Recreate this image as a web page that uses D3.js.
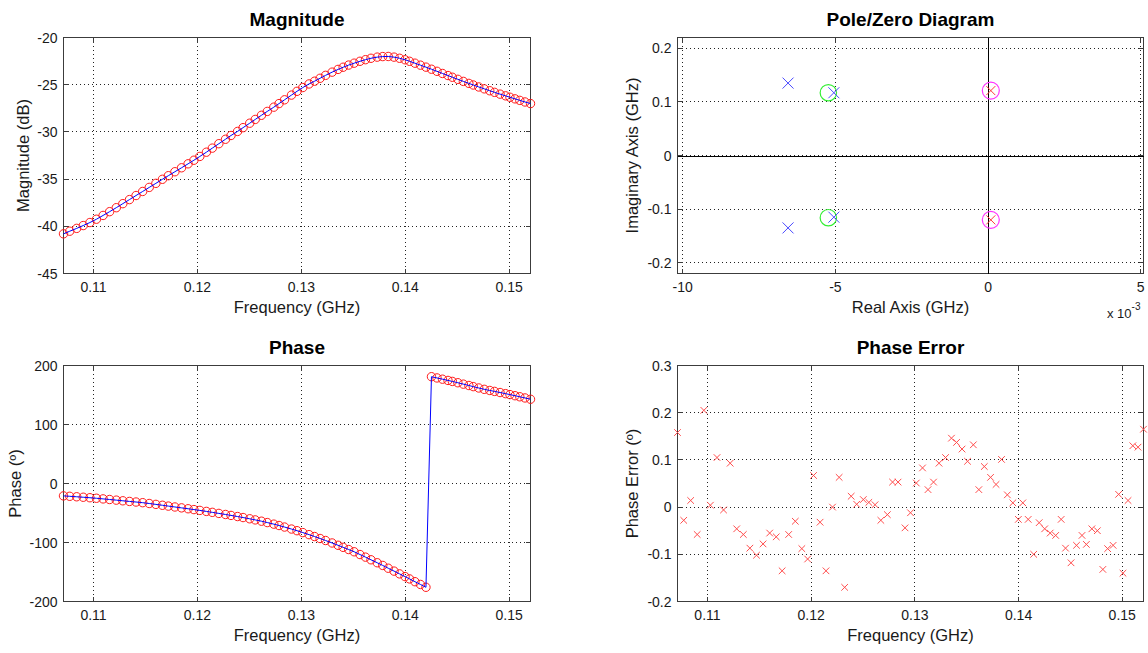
<!DOCTYPE html>
<html>
<head>
<meta charset="utf-8">
<script src="https://cdn.jsdelivr.net/npm/d3@7"></script>
<style>
body { margin: 0; background: #fff; }
svg { display: block; font-family: "Liberation Sans", Arial, sans-serif; }
</style>
</head>
<body>
<svg id="chart" width="1148" height="653"></svg>
<script>
// frequency points (GHz)
const freqGHz = [
    0.10711, 0.10771, 0.10838, 0.10901, 0.10965, 0.11028, 0.11092, 0.11155, 0.11219, 0.11282,
    0.11346, 0.11409, 0.11473, 0.11536, 0.11600, 0.11663, 0.11720, 0.11783, 0.11847, 0.11910,
    0.11966, 0.12023, 0.12086, 0.12143, 0.12206, 0.12270, 0.12323, 0.12386, 0.12439, 0.12503,
    0.12556, 0.12616, 0.12672, 0.12735, 0.12785, 0.12838, 0.12905, 0.12958, 0.13014, 0.13074,
    0.13127, 0.13180, 0.13233, 0.13296, 0.13353, 0.13402, 0.13455, 0.13508, 0.13564, 0.13617,
    0.13670, 0.13730, 0.13783, 0.13836, 0.13892, 0.13945, 0.13998, 0.14041, 0.14093, 0.14146,
    0.14199, 0.14252, 0.14305, 0.14358, 0.14411, 0.14453, 0.14506, 0.14559, 0.14612, 0.14654,
    0.14707, 0.14760, 0.14813, 0.14859, 0.14912, 0.14965, 0.15007, 0.15056, 0.15102, 0.15152,
    0.15205
];

const magnitudeDb = [
    -40.80, -40.52, -40.22, -39.92, -39.60, -39.25, -38.85, -38.45, -38.03, -37.60,
    -37.17, -36.74, -36.31, -35.88, -35.45, -35.02, -34.64, -34.22, -33.80, -33.38,
    -33.00, -32.60, -32.15, -31.72, -31.25, -30.78, -30.38, -29.95, -29.55, -29.08,
    -28.68, -28.24, -27.83, -27.38, -27.00, -26.60, -26.10, -25.70, -25.30, -24.92,
    -24.63, -24.32, -24.01, -23.67, -23.38, -23.15, -22.92, -22.72, -22.52, -22.35,
    -22.20, -22.08, -22.02, -22.01, -22.08, -22.20, -22.36, -22.52, -22.72, -22.93,
    -23.14, -23.36, -23.58, -23.81, -24.03, -24.21, -24.43, -24.65, -24.86, -25.03,
    -25.24, -25.44, -25.64, -25.81, -26.00, -26.18, -26.33, -26.50, -26.66, -26.83,
    -27.00
];

const phaseDeg = [
    -21.0, -21.7, -22.5, -23.3, -24.1, -25.0, -26.1, -27.1, -28.2, -29.3,
    -30.4, -31.4, -32.5, -33.9, -35.4, -36.9, -38.3, -39.8, -41.3, -42.8,
    -44.2, -45.6, -47.3, -48.9, -50.7, -52.5, -54.1, -56.0, -57.7, -59.8,
    -61.7, -63.9, -66.2, -68.9, -71.2, -73.8, -77.2, -80.0, -83.2, -86.7,
    -89.9, -93.2, -96.6, -100.8, -104.7, -108.2, -111.9, -115.7, -120.4, -124.8,
    -129.3, -134.3, -138.9, -143.6, -148.5, -153.2, -157.8, -161.7, -166.4, -171.1,
    -175.9, 181.0, 178.9, 176.8, 174.7, 173.0, 170.8, 168.4, 166.1, 164.2,
    161.9, 159.6, 157.7, 156.1, 154.2, 152.3, 150.7, 148.8, 147.0, 145.0,
    142.8
];

const phaseErrorDeg = [
    0.158, -0.028, 0.014, -0.058, 0.205, 0.004, 0.105, -0.006, 0.093, -0.046,
    -0.058, -0.087, -0.102, -0.078, -0.055, -0.063, -0.135, -0.058, -0.030, -0.088,
    -0.110, 0.067, -0.032, -0.135, 0.000, 0.063, -0.170, 0.023, 0.006, 0.016,
    0.010, 0.005, -0.028, -0.016, 0.053, 0.053, -0.044, -0.012, 0.051, 0.083,
    0.037, 0.053, 0.093, 0.105, 0.146, 0.137, 0.123, 0.097, 0.132, 0.037,
    0.086, 0.063, 0.048, 0.101, 0.026, 0.009, -0.026, 0.009, -0.026, -0.100,
    -0.033, -0.046, -0.055, -0.060, -0.026, -0.087, -0.118, -0.081, -0.060, -0.079,
    -0.046, -0.050, -0.132, -0.088, -0.081, 0.027, -0.140, 0.014, 0.130, 0.127,
    0.165
];

// pole/zero map (GHz)
const modelPoleRe = [-6.55e-3, -6.55e-3, -5.05e-3, -5.05e-3];
const modelPoleIm = [0.135, -0.135, 0.117, -0.115];
const modelZeroRe = [-5.23e-3, -5.23e-3];
const modelZeroIm = [0.117, -0.116];
const fitPoleRe = [0.09e-3, 0.09e-3];
const fitPoleIm = [0.121, -0.120];
const fitZeroRe = [0.09e-3, 0.09e-3];
const fitZeroIm = [0.121, -0.120];

// ticks
const freqTicks = [0.11, 0.12, 0.13, 0.14, 0.15];
const freqTickLabels = ['0.11', '0.12', '0.13', '0.14', '0.15'];
const magTicks = [-45, -40, -35, -30, -25, -20];
const magTickLabels = ['-45', '-40', '-35', '-30', '-25', '-20'];
const phaseTicks = [-200, -100, 0, 100, 200];
const phaseTickLabels = ['-200', '-100', '0', '100', '200'];
const errTicks = [-0.2, -0.1, 0, 0.1, 0.2, 0.3];
const errTickLabels = ['-0.2', '-0.1', '0', '0.1', '0.2', '0.3'];
const reTicks = [-10e-3, -5e-3, 0, 5e-3];
const reTickLabels = ['-10', '-5', '0', '5'];
const imTicks = [-0.2, -0.1, 0, 0.1, 0.2];
const imTickLabels = ['-0.2', '-0.1', '0', '0.1', '0.2'];

const svg = d3.select('#chart');
const textColor = '#1a1a1a';

function makeAxes(cfg) {
    const g = svg.append('g');
    const left = cfg.left + 0.5, right = cfg.right + 0.5;
    const top = cfg.top + 0.5, bottom = cfg.bottom + 0.5;
    const x = d3.scaleLinear().domain(cfg.xDomain).range([left, right]);
    const y = d3.scaleLinear().domain(cfg.yDomain).range([bottom, top]);
    const snap = v => Math.round(v - 0.5) + 0.5;

    // dotted grid
    const grid = g.append('g')
        .attr('stroke', '#222')
        .attr('stroke-width', 1)
        .attr('stroke-dasharray', '1,3')
        .attr('shape-rendering', 'crispEdges');
    grid.selectAll('.vg').data(cfg.xTicks).join('line')
        .attr('x1', d => snap(x(d))).attr('x2', d => snap(x(d)))
        .attr('y1', top).attr('y2', bottom);
    grid.selectAll('.hg').data(cfg.yTicks).join('line')
        .attr('x1', left).attr('x2', right)
        .attr('y1', d => snap(y(d))).attr('y2', d => snap(y(d)));

    // box
    g.append('rect')
        .attr('x', left).attr('y', top)
        .attr('width', right - left).attr('height', bottom - top)
        .attr('fill', 'none').attr('stroke', '#3c3c3c')
        .attr('shape-rendering', 'crispEdges');

    // tick marks, inside, on all sides
    const tk = g.append('g').attr('stroke', '#3c3c3c').attr('shape-rendering', 'crispEdges');
    const len = 5;
    cfg.xTicks.forEach(d => {
        tk.append('line').attr('x1', snap(x(d))).attr('x2', snap(x(d))).attr('y1', bottom).attr('y2', bottom - len);
        tk.append('line').attr('x1', snap(x(d))).attr('x2', snap(x(d))).attr('y1', top).attr('y2', top + len);
    });
    cfg.yTicks.forEach(d => {
        tk.append('line').attr('y1', snap(y(d))).attr('y2', snap(y(d))).attr('x1', left).attr('x2', left + len);
        tk.append('line').attr('y1', snap(y(d))).attr('y2', snap(y(d))).attr('x1', right).attr('x2', right - len);
    });

    // tick labels
    g.append('g').selectAll('text').data(cfg.xTicks).join('text')
        .attr('x', d => x(d)).attr('y', bottom + 18)
        .attr('text-anchor', 'middle')
        .style('font-size', '14px').attr('fill', textColor)
        .text((d, i) => cfg.xTickLabels[i]);
    g.append('g').selectAll('text').data(cfg.yTicks).join('text')
        .attr('x', left - 6).attr('y', d => y(d) + 5)
        .attr('text-anchor', 'end')
        .style('font-size', '14px').attr('fill', textColor)
        .text((d, i) => cfg.yTickLabels[i]);

    // title and axis labels
    const cx = (left + right) / 2, cy = (top + bottom) / 2;
    g.append('text')
        .attr('x', cx).attr('y', top - 11.5)
        .attr('text-anchor', 'middle')
        .style('font-size', '19px').style('font-weight', 'bold')
        .attr('fill', '#000')
        .text(cfg.title);
    g.append('text')
        .attr('x', cx).attr('y', bottom + 39.5)
        .attr('text-anchor', 'middle')
        .style('font-size', '16.5px').attr('fill', textColor)
        .text(cfg.xLabel);
    g.append('text')
        .attr('transform', `translate(${cfg.yLabelX},${cy}) rotate(-90)`)
        .attr('text-anchor', 'middle')
        .style('font-size', '16.5px').attr('fill', textColor)
        .text(cfg.yLabel);

    return {g, x, y};
}

function drawX(g, px, py, h, color) {
    g.append('path')
        .attr('d', `M${px - h},${py - h}L${px + h},${py + h}M${px - h},${py + h}L${px + h},${py - h}`)
        .attr('stroke', color).attr('stroke-width', 1).attr('fill', 'none');
}

// ---------- Magnitude ----------
const mag = makeAxes({
    left: 63, right: 530, top: 37, bottom: 273,
    xDomain: [freqGHz[0], freqGHz[freqGHz.length - 1]], yDomain: [-45, -20],
    xTicks: freqTicks, xTickLabels: freqTickLabels,
    yTicks: magTicks, yTickLabels: magTickLabels,
    title: 'Magnitude', xLabel: 'Frequency (GHz)', yLabel: 'Magnitude (dB)', yLabelX: 29
});
mag.g.append('g').selectAll('circle').data(freqGHz).join('circle')
    .attr('cx', d => mag.x(d)).attr('cy', (d, i) => mag.y(magnitudeDb[i]))
    .attr('r', 4.2).attr('fill', 'none').attr('stroke', '#ff1a1a').attr('stroke-width', 1);
mag.g.append('path')
    .datum(freqGHz)
    .attr('d', d3.line().x(d => mag.x(d)).y((d, i) => mag.y(magnitudeDb[i])))
    .attr('fill', 'none').attr('stroke', '#0000ff').attr('stroke-width', 1);

// ---------- Pole/Zero ----------
const pz = makeAxes({
    left: 677, right: 1143, top: 37, bottom: 273,
    xDomain: [-10.17e-3, 5.09e-3], yDomain: [-0.22, 0.22],
    xTicks: reTicks, xTickLabels: reTickLabels,
    yTicks: imTicks, yTickLabels: imTickLabels,
    title: 'Pole/Zero Diagram', xLabel: 'Real Axis (GHz)', yLabel: 'Imaginary Axis (GHz)', yLabelX: 638
});
pz.g.append('line')
    .attr('x1', Math.round(pz.x(0)) + 0.5).attr('x2', Math.round(pz.x(0)) + 0.5)
    .attr('y1', pz.y(0.22)).attr('y2', pz.y(-0.22))
    .attr('stroke', '#000').attr('shape-rendering', 'crispEdges');
pz.g.append('line')
    .attr('y1', Math.round(pz.y(0)) + 0.5).attr('y2', Math.round(pz.y(0)) + 0.5)
    .attr('x1', pz.x(-10.17e-3)).attr('x2', pz.x(5.09e-3))
    .attr('stroke', '#000').attr('shape-rendering', 'crispEdges');
pz.g.append('g').selectAll('circle').data(modelZeroRe).join('circle')
    .attr('cx', d => pz.x(d)).attr('cy', (d, i) => pz.y(modelZeroIm[i]))
    .attr('r', 8.2).attr('fill', 'none').attr('stroke', '#33ee33').attr('stroke-width', 1.2);
modelPoleRe.forEach((d, i) => drawX(pz.g, pz.x(d), pz.y(modelPoleIm[i]), 5.5, '#4a4aff'));
pz.g.append('g').selectAll('circle').data(fitZeroRe).join('circle')
    .attr('cx', d => pz.x(d)).attr('cy', (d, i) => pz.y(fitZeroIm[i]))
    .attr('r', 8.5).attr('fill', 'none').attr('stroke', '#ff33ff').attr('stroke-width', 1.2);
fitPoleRe.forEach((d, i) => drawX(pz.g, pz.x(d), pz.y(fitPoleIm[i]), 4.5, '#ff3a3a'));

// exponent label
const expo = pz.g.append('text')
    .attr('x', 1107).attr('y', 318)
    .style('font-size', '13px').attr('fill', textColor);
expo.append('tspan').text('x 10');
expo.append('tspan').attr('dy', -8).style('font-size', '10px').text('-3');

// ---------- Phase ----------
const ph = makeAxes({
    left: 63, right: 530, top: 365, bottom: 601,
    xDomain: [freqGHz[0], freqGHz[freqGHz.length - 1]], yDomain: [-200, 200],
    xTicks: freqTicks, xTickLabels: freqTickLabels,
    yTicks: phaseTicks, yTickLabels: phaseTickLabels,
    title: 'Phase', xLabel: 'Frequency (GHz)', yLabel: 'Phase (º)', yLabelX: 21
});
ph.g.append('g').selectAll('circle').data(freqGHz).join('circle')
    .attr('cx', d => ph.x(d)).attr('cy', (d, i) => ph.y(phaseDeg[i]))
    .attr('r', 4.2).attr('fill', 'none').attr('stroke', '#ff1a1a').attr('stroke-width', 1);
ph.g.append('path')
    .datum(freqGHz)
    .attr('d', d3.line().x(d => ph.x(d)).y((d, i) => ph.y(phaseDeg[i])))
    .attr('fill', 'none').attr('stroke', '#0000ff').attr('stroke-width', 1);

// ---------- Phase Error ----------
const pe = makeAxes({
    left: 677, right: 1143, top: 365, bottom: 601,
    xDomain: [freqGHz[0], freqGHz[freqGHz.length - 1]], yDomain: [-0.2, 0.3],
    xTicks: freqTicks, xTickLabels: freqTickLabels,
    yTicks: errTicks, yTickLabels: errTickLabels,
    title: 'Phase Error', xLabel: 'Frequency (GHz)', yLabel: 'Phase Error (º)', yLabelX: 638
});
freqGHz.forEach((d, i) => drawX(pe.g, pe.x(d), pe.y(phaseErrorDeg[i]), 3.3, '#ff4d4d'));
</script>
</body>
</html>
